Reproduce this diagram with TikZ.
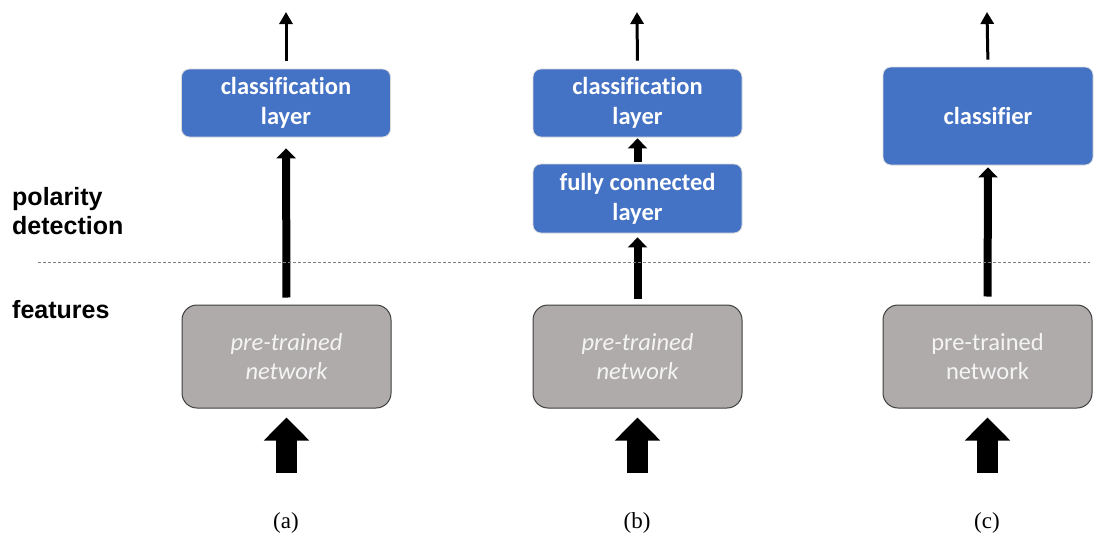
\documentclass[tikz,border=0pt]{standalone}
\usepackage{fontspec}
\setmainfont{Carlito}[Ligatures=NoCommon]
\newfontfamily\labelfont{Liberation Sans}
\newfontfamily\capfont{Liberation Serif}
\usetikzlibrary{arrows.meta}
\definecolor{boxblue}{HTML}{4472C4}
\definecolor{boxgray}{HTML}{AFABAB}
\definecolor{boxedge}{HTML}{3F3F3F}
\definecolor{softwhite}{HTML}{F4F4F4}
\tikzset{
  bluebox/.style={draw=white!85!black, line width=0.8pt, fill=boxblue, rounded corners=8pt,
    minimum width=209pt, inner sep=0pt, align=center, text=white,
    font=\fontsize{24.5}{30}\selectfont\bfseries},
  graybox/.style={draw=boxedge, line width=1pt, fill=boxgray, rounded corners=15pt,
    minimum width=209pt, minimum height=103pt, inner sep=0pt, align=center, text=softwhite,
    font=\fontsize{24.5}{29}\selectfont},
  thinarrow/.style={line width=3pt, -{Triangle[width=13pt,length=12pt]}},
  midarrow/.style={line width=8pt, -{Triangle[width=19pt,length=10pt]}},
  bigarrow/.style={line width=21pt, -{Triangle[width=44pt,length=23pt]}},
  sidelabel/.style={font=\labelfont\fontsize{25}{29}\selectfont\bfseries, anchor=base west, inner sep=0pt},
  caption/.style={font=\capfont\fontsize{23}{26}\selectfont, inner sep=0pt},
  divider/.style={draw=gray, line width=0.9pt, dash pattern=on 3pt off 2pt}
}
\begin{document}
\begin{tikzpicture}[x=1pt,y=-1pt]
\useasboundingbox (0,0) rectangle (1108,538);

% column (a)
\node[bluebox, minimum height=68pt] (ca) at (286,103) {classification\\layer};
\node[graybox] (pa) at (286.5,356.5) {\itshape pre-trained\\\itshape network};
\coordinate (outa) at (286,12);
\coordinate (ina) at (286.5,473);
\draw[thinarrow, shorten <=8pt] (ca.north) -- (outa);
\draw[midarrow, shorten <=7pt, shorten >=11pt] (pa.north) -- (ca.south);
\draw[bigarrow, shorten >=9pt] (ina) -- (pa.south);
\node[caption] (capa) at (286,523) {(a)};

% column (b)
\node[bluebox, minimum height=68pt] (cb) at (637.5,103) {classification\\layer};
\node[bluebox, minimum height=69pt] (fb) at (637.5,198.5) {fully connected\\layer};
\node[graybox] (pb) at (637.5,356.5) {\itshape pre-trained\\\itshape network};
\coordinate (outb) at (637,12);
\coordinate (inb) at (637.5,473);
\draw[thinarrow, shorten <=8pt] (cb.north) -- (outb);
\draw[midarrow, shorten <=2pt, shorten >=1pt] (fb.north) -- (cb.south);
\draw[midarrow, shorten <=6pt, shorten >=4pt] (pb.north) -- (fb.south);
\draw[bigarrow, shorten >=9pt] (inb) -- (pb.south);
\node[caption] (capb) at (637,523) {(b)};

% column (c)
\node[bluebox, minimum width=210pt, minimum height=98pt] (cc) at (988,116) {classifier};
\node[graybox] (pc) at (987.5,356.5) {pre-trained\\network};
\coordinate (outc) at (987,12);
\coordinate (inc) at (987.5,473);
\draw[thinarrow, shorten <=7pt] (cc.north) -- (outc);
\draw[midarrow, shorten <=8pt, shorten >=2pt] (pc.north) -- (cc.south);
\draw[bigarrow, shorten >=9pt] (inc) -- (pc.south);
\node[caption] (capc) at (987,523) {(c)};

% side labels and divider
\node[sidelabel] (pol) at (12,205) {polarity};
\node[sidelabel] (det) at (12,234) {detection};
\node[sidelabel] (feat) at (12,318) {features};
\coordinate (dl) at (38,262);
\coordinate (dr) at (1090,262);
\draw[divider] (dl) -- (dr);
\end{tikzpicture}
\end{document}
